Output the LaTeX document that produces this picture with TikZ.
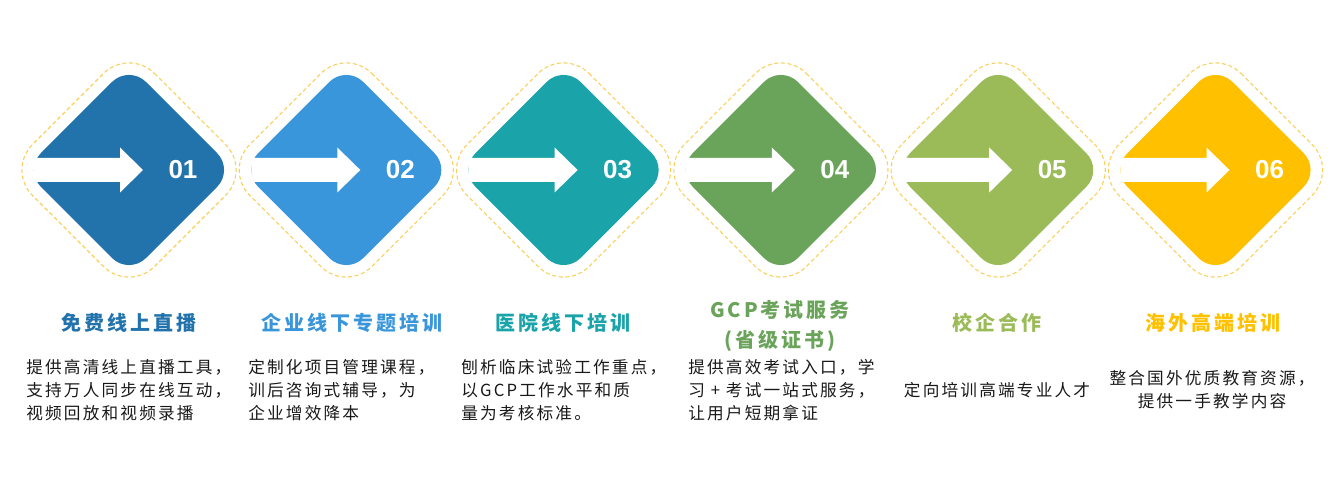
\documentclass[tikz,border=0pt]{standalone}
\usepackage{fontspec}
\setmainfont{Liberation Sans}
\newfontfamily\titlefont{Noto Sans CJK SC}[LetterSpace=15]
\newfontfamily\descfont{Noto Sans CJK SC}[LetterSpace=13]
\usetikzlibrary{positioning}
\definecolor{stepA}{HTML}{2273AC}
\definecolor{stepB}{HTML}{3A96DB}
\definecolor{stepC}{HTML}{1BA3AA}
\definecolor{stepD}{HTML}{6AA35A}
\definecolor{stepE}{HTML}{9BBB59}
\definecolor{stepF}{HTML}{FFC000}
\definecolor{dashyellow}{HTML}{F9CF5A}
\tikzset{
  dashline/.style={draw=dashyellow, line width=0.8pt, dash pattern=on 3pt off 2pt},
  num/.style={text=white, font=\bfseries\fontsize{19.5}{20}\selectfont},
  title/.style={font=\titlefont\bfseries\fontsize{15}{22.5}\selectfont, align=center},
  desc/.style={font=\descfont\fontsize{12.5}{17.25}\selectfont, text=black!90,
    align=left, anchor=north west, inner sep=0pt}
}

\begin{document}
\begin{tikzpicture}[x=0.75pt, y=-0.75pt]
      \useasboundingbox (0,0) rectangle (1335,495);
      \foreach \i/\n/\col in {0/01/stepA, 1/02/stepB, 2/03/stepC, 3/04/stepD, 4/05/stepE, 5/06/stepF}{
        \begin{scope}[shift={(129+217.3*\i,170)}]
          \draw[dashline, rounded corners=27pt]
            (0,-122) -- (122,0) -- (0,122) -- (-122,0) -- cycle;
          \fill[\col, rounded corners=18pt]
            (0,-105) -- (105,0) -- (0,105) -- (-105,0) -- cycle;
          \fill[white]
            (-95,-12) -- (-9,-12) -- (-9,-22.5) -- (14,0) -- (-9,22.5) -- (-9,12) -- (-95,12) -- cycle;
          \node[num] (n\i) at (54,0) {\n};
        \end{scope}
      }
      \node[title, text=stepA] (t1) at (129,323) {免费线上直播};
      \node[title, text=stepB] (t2) at (352,323) {企业线下专题培训};
      \node[title, text=stepC] (t3) at (563,323) {医院线下培训};
      \node[title, text=stepD] (t4) at (780,326) {GCP考试服务\\(省级证书)};
      \node[title, text=stepE] (t5) at (997,323) {校企合作};
      \node[title, text=stepF] (t6) at (1213,323) {海外高端培训};
      \node[desc] (p1) at (26,359)
        {提供高清线上直播工具，\\支持万人同步在线互动，\\视频回放和视频录播};
      \node[desc] (p2) at (248,359)
        {定制化项目管理课程，\\训后咨询式辅导，为\\企业增效降本};
      \node[desc] (p3) at (461,359)
        {刨析临床试验工作重点，\\以GCP工作水平和质\\量为考核标准。};
      \node[desc] (p4) at (688,359)
        {提供高效考试入口，学\\习 + 考试一站式服务，\\让用户短期拿证};
      \node[desc, anchor=center, align=center] (p5) at (997,390)
        {定向培训高端专业人才};
      \node[desc, anchor=center, align=center] (p6) at (1212,390)
        {整合国外优质教育资源，\\ 提供一手教学内容};
    \end{tikzpicture}
\end{document}
